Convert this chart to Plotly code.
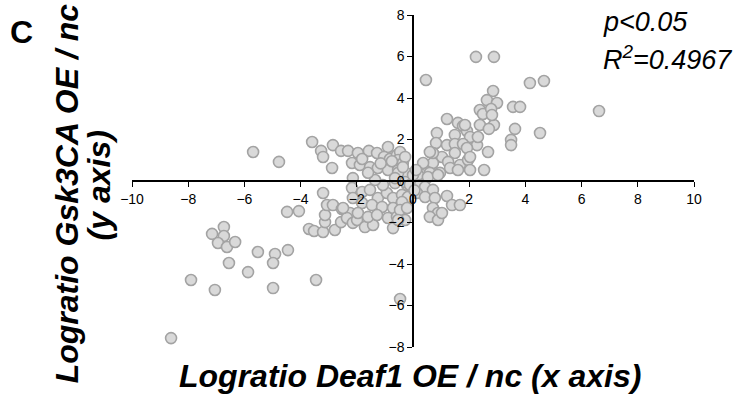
import plotly.graph_objects as go

# Logratio Deaf1 OE / nc (x) vs Logratio Gsk3CA OE / nc (y)
x_vals = [
    -8.61, -7.90, -7.05, -7.15, -6.73, -6.73, -6.94, -6.62, -6.33, -5.52,
    -4.91, -4.98, -4.45, -6.55, -5.87, -4.98, -3.45, -4.48, -4.06,
    -3.70, -3.52, -3.20, -2.78, -3.13, -3.13, -3.06, -2.85, -2.53, -2.24,
    -3.20, -2.56, -2.35, -2.14, -1.99, -1.71, -1.42, -0.71,
    -5.69, -4.77, -3.59, -3.27, -2.85, -3.20, -2.88, -2.56, -2.31, -1.96,
    -2.17, -1.89, -1.53, -1.57, -1.28, -0.89, -1.03, -0.82, -0.57, -1.25,
    -0.89, -0.53, -0.25, -1.81, -2.14, -0.46, -0.53, -0.36, -0.53,
    -2.17, -2.14, -1.81, -1.53, -1.25, -0.93, -0.71, -0.39, -0.21, -1.81,
    -1.46, -1.10, -0.71, -0.36, -2.49, -1.96, -1.60, -1.28, -0.89, -0.57,
    -0.28, -0.46, -0.18, -0.39, -0.46, -0.21, -0.53,
    0.46, 2.24, 2.88, 4.16, 4.66, 6.62, 2.85, 2.63, 2.99, 2.38,
    2.49, 2.78, 3.56, 3.81, 3.63, 4.52, 3.49, 3.49, 2.67, 2.53,
    1.21, 1.60, 1.78, 1.92, 2.38, 2.88, 2.70, 2.28, 0.85, 1.49,
    2.03, 0.82, 1.21, 1.49, 1.78, 1.03, 1.49, 1.92, 0.71, 1.25,
    1.67, 1.96, 0.36, 0.71, 0.32, 0.60, 0.96, 1.32, 2.03, -0.28,
    -0.36, 1.85, 2.81, 2.31, 0.60, 2.03, 1.60, 0.18, 0.53, 0.89,
    -0.28, -0.11, 0.25, 0.43, 0.71, 0.14, 0.43, 0.78, 1.21, 1.39,
    1.67, 0.71, 0.89, 0.60, 0.89, 1.03,
    0.00, -0.64, -1.07, -0.64, 0.11, -1.35, -1.60, -1.15, -0.75, 0.05,
]
y_vals = [
    -7.57, -4.77, -5.25, -2.55, -2.22, -2.65, -2.99, -3.18, -2.94, -3.42,
    -3.52, -3.95, -3.33, -3.95, -4.39, -5.16, -4.77, -1.49, -1.45,
    -2.31, -2.41, -2.46, -2.36, -1.98, -1.64, -1.16, -1.16, -1.35, -1.54,
    -0.58, -1.98, -1.78, -2.02, -1.88, -2.22, -2.12, -2.27,
    1.40, 0.92, 1.88, 1.45, 1.73, 1.16, 0.63, 1.45, 1.45, 1.35,
    0.87, 0.77, 0.67, 1.45, 1.35, 1.64, 1.16, 1.06, 1.25, 0.63,
    0.53, 0.53, 0.39, 1.06, 0.14, 1.40, 1.01, 0.87, 0.39,
    -0.34, -0.82, -0.53, -0.43, -0.82, -0.58, -0.82, -0.67, -0.19, -1.06,
    -1.16, -1.25, -1.30, -1.40, -1.30, -1.54, -1.73, -1.64, -1.78, -1.73,
    -1.88, -5.69, -0.77, -1.01, -1.40, -1.30, -1.88,
    4.87, 5.98, 5.98, 4.72, 4.82, 3.37, 4.34, 3.90, 3.76, 3.42,
    3.23, 3.47, 3.57, 3.57, 2.51, 2.31, 1.98, 1.73, 1.40, 0.53,
    2.99, 2.80, 2.65, 2.41, 2.70, 2.70, 2.51, 1.73, 2.31, 2.22,
    2.12, 1.83, 1.73, 1.78, 1.78, 1.16, 1.35, 1.59, 0.87, 0.92,
    0.77, 1.01, 0.87, 1.35, 0.29, 0.39, 0.39, 0.63, 0.53, 1.16,
    0.67, 2.70, 3.18, 2.12, 1.40, 1.16, 0.53, 0.29, 0.19, 0.29,
    -0.05, -0.19, -0.19, -0.29, -0.43, -0.58, -0.77, -0.82, -0.72, -1.16,
    -1.16, -1.30, -1.54, -1.73, -1.88, -1.54,
    0.29, -0.10, -0.19, 0.14, 0.53, 0.05, 0.40, 0.85, 0.95, -0.45,
]

x_range = [-10, 10]
y_range = [-8, 8]
tick_step = 2

panel_label = "C"
x_title = "Logratio Deaf1 OE / nc (x axis)"
y_title_1 = "Logratio Gsk3CA OE / nc"
y_title_2 = "(y axis)"
stat_1 = "p<0.05"
stat_2 = "R<sup>2</sup>=0.4967"

FONT = "Liberation Sans, Arial, Helvetica, sans-serif"

fig = go.Figure()
fig.add_trace(go.Scatter(
    x=x_vals, y=y_vals, mode="markers",
    marker=dict(size=11, color="#d9d9d9", line=dict(color="#a3a3a3", width=1.6)),
    showlegend=False, hoverinfo="skip",
))

axis_common = dict(
    showgrid=False, zeroline=False, showline=True, linecolor="black", linewidth=1.5,
    ticks="outside", ticklen=5, tickwidth=1.3, tickcolor="black", dtick=tick_step,
    tickfont=dict(family=FONT, size=14, color="black"),
    anchor="free", position=0.5, automargin=False,
)
fig.update_xaxes(range=x_range, tick0=x_range[0], **axis_common)
fig.update_yaxes(range=y_range, tick0=y_range[0], **axis_common)

fig.update_layout(
    width=743, height=396,
    margin=dict(l=132, r=49, t=15, b=49),
    plot_bgcolor="white", paper_bgcolor="white",
    font=dict(family=FONT, color="black"),
)

anns = [
    dict(text=f"<b>{panel_label}</b>", x=-0.196, y=0.949, font=dict(size=32)),
    dict(text=f"<b><i>{x_title}</i></b>", x=0.495, y=-0.087, font=dict(size=32)),
    dict(text=f"<b><i>{y_title_1}</i></b>", x=-0.115, y=0.464, textangle=-90, font=dict(size=32)),
    dict(text=f"<b><i>{y_title_2}</i></b>", x=-0.058, y=0.488, textangle=-90, font=dict(size=32)),
    dict(text=f"<i>{stat_1}</i>", x=0.834, y=0.979, xanchor="left", font=dict(size=27)),
    dict(text=f"<i>{stat_2}</i>", x=0.834, y=0.870, xanchor="left", font=dict(size=27)),
]
for a in anns:
    base = dict(xref="paper", yref="paper", showarrow=False, xanchor="center", yanchor="middle")
    base.update(a)
    base["font"] = dict(family=FONT, color="black", **a["font"])
    fig.add_annotation(**base)

fig.write_html(
    "out.html",
    config={"displayModeBar": False},
    post_script="document.body.style.margin='0';document.body.style.padding='0';",
)
